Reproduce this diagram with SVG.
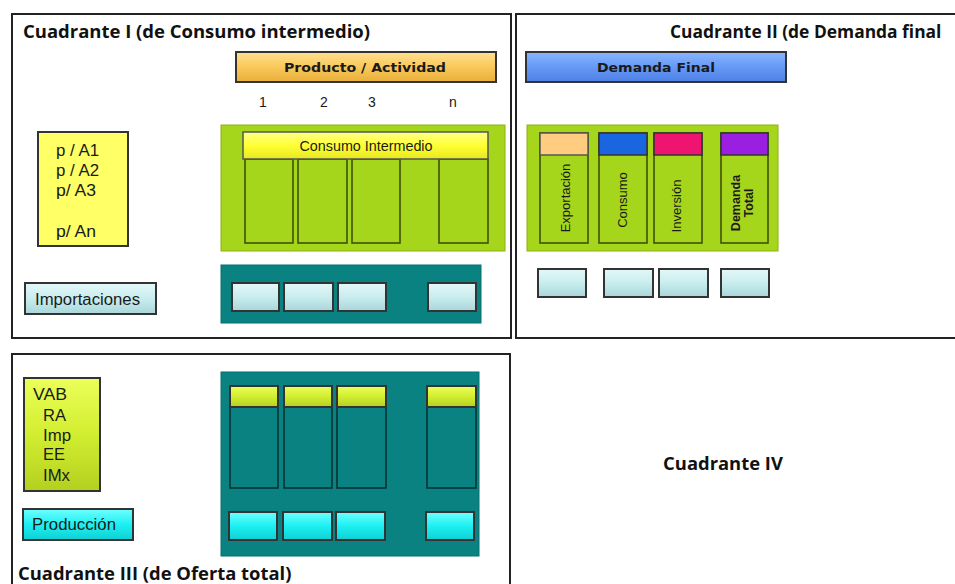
<svg xmlns="http://www.w3.org/2000/svg" width="955" height="584" viewBox="0 0 955 584">
<style>
.quad{fill:#fff;stroke:#222;stroke-width:2}
.title{font-family:"Open Sans","Liberation Sans",sans-serif;font-weight:bold;font-size:18.4px;fill:#111}
.title2{font-family:"Open Sans","Liberation Sans",sans-serif;font-weight:bold;font-size:17.4px;fill:#111}
.lbl{font-family:"Liberation Sans",Arial,sans-serif;font-size:14px;fill:#1a1a1a}
.blbl{font-family:"DejaVu Sans","Liberation Sans",sans-serif;font-size:13px;font-weight:bold;fill:#1a1a1a}
.green{fill:#A6D61C;stroke:#8DB010;stroke-width:1}
.teal{fill:#0A8282;stroke:#077070;stroke-width:1}
.gcol{fill:none;stroke:#3F5208;stroke-width:1.6}
.tcol{fill:none;stroke:#023434;stroke-width:1.6}
.btn{stroke:#333;stroke-width:2}
.lc{fill:url(#gLc)}
.cy{fill:url(#gCy)}
.yg{fill:url(#gYg)}
</style>
<defs>
<linearGradient id="gLc" x1="0" y1="0" x2="0" y2="1"><stop offset="0" stop-color="#E4F8F9"/><stop offset="0.5" stop-color="#C8EDEF"/><stop offset="1" stop-color="#A9D6D9"/></linearGradient>
<linearGradient id="gCy" x1="0" y1="0" x2="0" y2="1"><stop offset="0" stop-color="#6FFFFF"/><stop offset="0.5" stop-color="#1DF0F2"/><stop offset="1" stop-color="#10CFD2"/></linearGradient>
<linearGradient id="gYg" x1="0" y1="0" x2="0" y2="1"><stop offset="0" stop-color="#EBFF5A"/><stop offset="0.5" stop-color="#D2EE30"/><stop offset="1" stop-color="#B4D020"/></linearGradient>
<linearGradient id="gOr" x1="0" y1="0" x2="0" y2="1"><stop offset="0" stop-color="#FFE090"/><stop offset="0.5" stop-color="#F9C95A"/><stop offset="1" stop-color="#E8AE3A"/></linearGradient>
<linearGradient id="gBl" x1="0" y1="0" x2="0" y2="1"><stop offset="0" stop-color="#8AB6FF"/><stop offset="0.5" stop-color="#6699F5"/><stop offset="1" stop-color="#4D80E6"/></linearGradient>
<linearGradient id="gYe" x1="0" y1="0" x2="0" y2="1"><stop offset="0" stop-color="#FFFF88"/><stop offset="0.5" stop-color="#FFFF33"/><stop offset="1" stop-color="#E8E820"/></linearGradient>
</defs>

<g id="quadrant-1">
<rect class="quad" x="12" y="14" width="499" height="324"/>
<text class="title" x="23" y="38" textLength="347" lengthAdjust="spacingAndGlyphs">Cuadrante I (de Consumo intermedio)</text>
</g>
<g id="quadrant-2">
<rect class="quad" x="516" y="14" width="460" height="324"/>
<text class="title2" x="670" y="38">Cuadrante II (de Demanda final</text>
</g>
<g id="quadrant-3">
<rect class="quad" x="12" y="354" width="498" height="250"/>
<text class="title" x="18" y="580">Cuadrante III (de Oferta total)</text>
</g>
<g id="quadrant-4">
<text class="title" x="723" y="470" text-anchor="middle">Cuadrante IV</text>
</g>

<g id="producto-actividad">
<rect class="btn" x="236" y="52" width="260" height="30" fill="url(#gOr)"/>
<text class="blbl" x="365" y="72" text-anchor="middle" textLength="162" lengthAdjust="spacingAndGlyphs">Producto / Actividad</text>
</g>
<g id="column-numbers">
<text class="lbl" font-size="15" x="263" y="107" text-anchor="middle">1</text>
<text class="lbl" font-size="15" x="324" y="107" text-anchor="middle">2</text>
<text class="lbl" font-size="15" x="372" y="107" text-anchor="middle">3</text>
<text class="lbl" font-size="15" x="453" y="107" text-anchor="middle">n</text>
</g>
<g id="demanda-final">
<rect class="btn" x="526" y="52" width="260" height="30" fill="url(#gBl)"/>
<text class="blbl" x="656" y="72" text-anchor="middle" textLength="118" lengthAdjust="spacingAndGlyphs">Demanda Final</text>
</g>

<g id="productos-actividades">
<rect x="38" y="132" width="90" height="114" fill="#FFFF66" stroke="#333" stroke-width="2"/>
<text class="lbl" style="font-size:16px" x="56" y="156" textLength="43" lengthAdjust="spacingAndGlyphs">p / A1</text>
<text class="lbl" style="font-size:16px" x="56" y="176" textLength="43" lengthAdjust="spacingAndGlyphs">p / A2</text>
<text class="lbl" style="font-size:16px" x="56" y="196" textLength="40" lengthAdjust="spacingAndGlyphs">p/ A3</text>
<text class="lbl" style="font-size:16px" x="56" y="237" textLength="40" lengthAdjust="spacingAndGlyphs">p/ An</text>
</g>

<g id="importaciones">
<rect class="btn lc" x="25" y="283" width="131" height="31"/>
<text class="lbl" style="font-size:16px" x="35" y="305" textLength="105" lengthAdjust="spacingAndGlyphs">Importaciones</text>
</g>

<g id="consumo-intermedio">
<rect class="green" x="221" y="125" width="284" height="126"/>
<rect class="gcol" x="245" y="159" width="48" height="84"/>
<rect class="gcol" x="298" y="159" width="49" height="84"/>
<rect class="gcol" x="352" y="159" width="48" height="84"/>
<rect class="gcol" x="439" y="159" width="49" height="84"/>
<rect x="243" y="132" width="245" height="27" fill="url(#gYe)" stroke="#555" stroke-width="1.5"/>
<text class="lbl" x="366" y="151" text-anchor="middle" textLength="133" lengthAdjust="spacingAndGlyphs">Consumo Intermedio</text>
</g>

<g id="importaciones-fila">
<rect class="teal" x="221" y="265" width="260" height="58"/>
<rect class="btn lc" x="232" y="283" width="47" height="28"/>
<rect class="btn lc" x="284" y="283" width="49" height="28"/>
<rect class="btn lc" x="338" y="283" width="48" height="28"/>
<rect class="btn lc" x="428" y="283" width="48" height="28"/>
</g>

<g id="demanda-final-columnas">
<rect class="green" x="527" y="125" width="251" height="126"/>
<rect class="gcol" x="540" y="133" width="48" height="110"/>
<rect class="gcol" x="599" y="133" width="48" height="110"/>
<rect class="gcol" x="654" y="133" width="48" height="110"/>
<rect class="gcol" x="721" y="133" width="47" height="110"/>
<rect x="540" y="133" width="48" height="22" fill="#FFCC80" stroke="#555" stroke-width="1.5"/>
<rect x="599" y="133" width="48" height="22" fill="#1A66E0" stroke="#333" stroke-width="1.5"/>
<rect x="654" y="133" width="48" height="22" fill="#EE1470" stroke="#333" stroke-width="1.5"/>
<rect x="721" y="133" width="47" height="22" fill="#9A1FE0" stroke="#333" stroke-width="1.5"/>
<text class="lbl" style="font-size:13px" transform="translate(570,198) rotate(-90)" text-anchor="middle">Exportación</text>
<text class="lbl" style="font-size:13px" transform="translate(627,200) rotate(-90)" text-anchor="middle">Consumo</text>
<text class="lbl" style="font-size:13px" transform="translate(681,206) rotate(-90)" text-anchor="middle">Inversión</text>
<text class="lbl" style="font-size:12.5px;font-weight:bold" transform="translate(740,203) rotate(-90)" text-anchor="middle">Demanda</text>
<text class="lbl" style="font-size:12.5px;font-weight:bold" transform="translate(753,203) rotate(-90)" text-anchor="middle">Total</text>
</g>

<g id="demanda-final-importaciones">
<rect class="btn lc" x="538" y="269" width="48" height="28"/>
<rect class="btn lc" x="604" y="269" width="49" height="28"/>
<rect class="btn lc" x="659" y="269" width="49" height="28"/>
<rect class="btn lc" x="721" y="269" width="48" height="28"/>
</g>

<g id="vab">
<rect class="btn yg" x="24" y="378" width="76" height="113"/>
<text class="lbl" style="font-size:16px" x="33" y="400" textLength="34" lengthAdjust="spacingAndGlyphs">VAB</text>
<text class="lbl" style="font-size:16px" x="43" y="421" textLength="23" lengthAdjust="spacingAndGlyphs">RA</text>
<text class="lbl" style="font-size:16px" x="43" y="441" textLength="28" lengthAdjust="spacingAndGlyphs">Imp</text>
<text class="lbl" style="font-size:16px" x="43" y="460" textLength="22" lengthAdjust="spacingAndGlyphs">EE</text>
<text class="lbl" style="font-size:16px" x="43" y="481" textLength="27" lengthAdjust="spacingAndGlyphs">IMx</text>
</g>

<g id="produccion">
<rect class="btn cy" x="23" y="509" width="110" height="31"/>
<text class="lbl" style="font-size:16px" x="32" y="530" textLength="84" lengthAdjust="spacingAndGlyphs">Producción</text>
</g>

<g id="oferta-total">
<rect class="teal" x="221" y="372" width="258" height="184"/>
<rect class="tcol" x="230" y="386" width="48" height="102"/>
<rect class="tcol" x="284" y="386" width="48" height="102"/>
<rect class="tcol" x="337" y="386" width="49" height="102"/>
<rect class="tcol" x="427" y="386" width="49" height="102"/>
<rect class="btn yg" x="230" y="386" width="48" height="21"/>
<rect class="btn yg" x="284" y="386" width="48" height="21"/>
<rect class="btn yg" x="337" y="386" width="49" height="21"/>
<rect class="btn yg" x="427" y="386" width="49" height="21"/>
<rect class="btn cy" x="229" y="512" width="48" height="28"/>
<rect class="btn cy" x="283" y="512" width="49" height="28"/>
<rect class="btn cy" x="336" y="512" width="49" height="28"/>
<rect class="btn cy" x="426" y="512" width="48" height="28"/>
</g>
<g id="connectors"/>
</svg>
